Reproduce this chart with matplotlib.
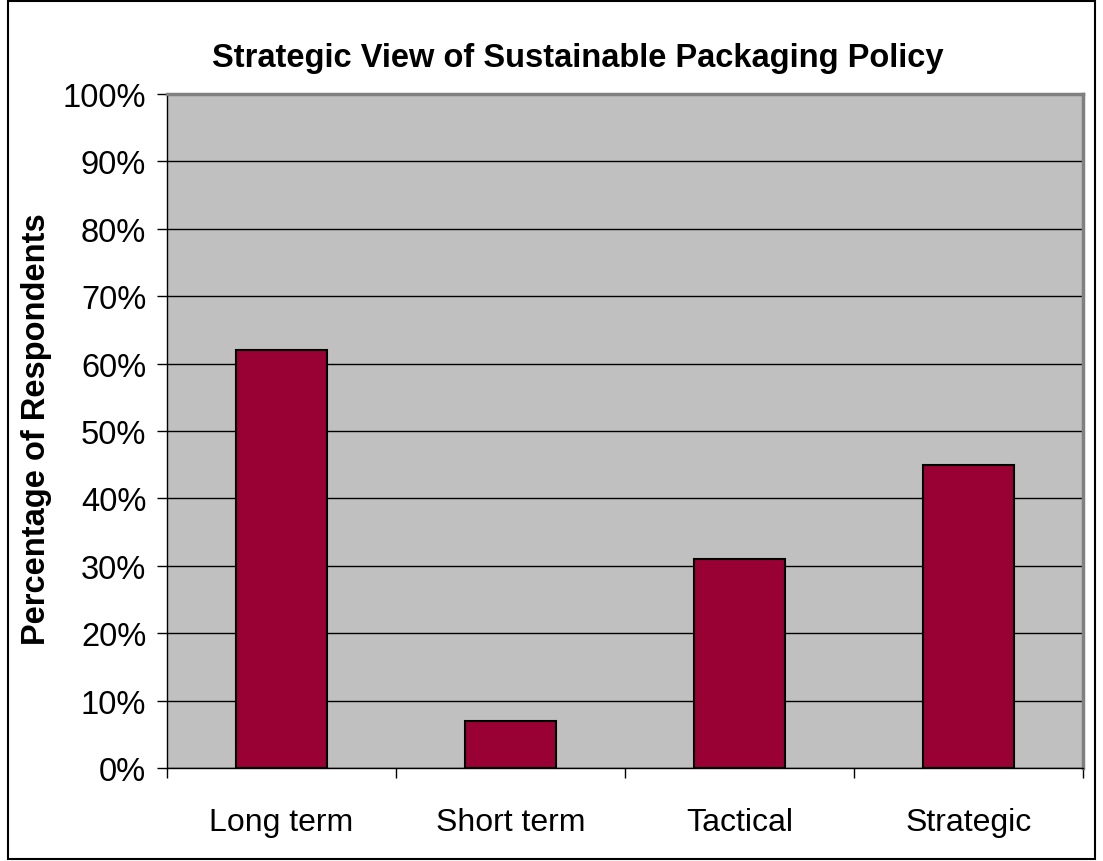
import matplotlib.pyplot as plt
from matplotlib.patches import Rectangle
import numpy as np

plt.rcParams['font.family'] = ['Liberation Sans', 'DejaVu Sans']

categories = ['Long term', 'Short term', 'Tactical', 'Strategic']
values = [62, 7, 31, 45]
yticks = [0, 10, 20, 30, 40, 50, 60, 70, 80, 90, 100]

W, H = 1103, 862
fig = plt.figure(figsize=(W / 100, H / 100), dpi=100)

# plot area in pixels: left 167, right 1083, top 95, bottom 769
ax = fig.add_axes([167 / W, 1 - 769 / H, (1083 - 167) / W, (769 - 95) / H])
ax.set_facecolor('#C0C0C0')

x = np.arange(len(categories))
ax.bar(x, values, width=0.4, color='#990033', edgecolor='black', linewidth=1.5, zorder=3)

ax.set_xlim(-0.5, len(categories) - 0.5)
ax.set_ylim(0, 100)
ax.set_yticks(yticks)
ax.set_yticklabels([f'{v}%' for v in yticks], fontsize=23.5)
ax.yaxis.grid(True, color='black', linewidth=1, zorder=1)
ax.set_axisbelow(True)

# category labels centred, ticks on category boundaries
ax.set_xticks(x)
ax.set_xticklabels(categories, fontsize=23)
ax.tick_params(axis='x', length=0, pad=28)
ax.set_xticks(np.arange(-0.5, len(categories)), minor=True)
ax.tick_params(axis='x', which='minor', length=7, width=1, color='black', direction='out')
ax.tick_params(axis='y', length=7, width=1, direction='out', pad=8)

for s in ['left', 'bottom']:
    ax.spines[s].set_color('black')
    ax.spines[s].set_linewidth(1)
for s in ['top', 'right']:
    ax.spines[s].set_color('#808080')
    ax.spines[s].set_linewidth(2.5)

ax.set_ylabel('Percentage of Respondents', fontsize=23.5, fontweight='bold')
ax.yaxis.set_label_coords((52 - 167) / (1083 - 167), (769 - 429) / (769 - 95))

fig.text(578 / W, 1 - 58 / H, 'Strategic View of Sustainable Packaging Policy',
         fontsize=23.5, fontweight='bold', ha='center', va='center')

# outer chart border
fig.patches.append(Rectangle((8 / W, 2 / H), 1 - 16 / W, 1 - 4 / H, transform=fig.transFigure,
                             fill=False, edgecolor='black', linewidth=1.5))

fig.savefig('out.png', dpi=100)
